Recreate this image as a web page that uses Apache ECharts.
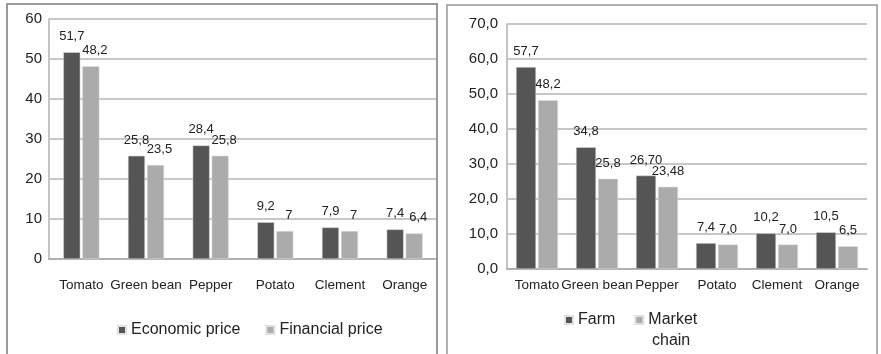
<!DOCTYPE html>
<html><head><meta charset="utf-8">
<script src="https://cdn.jsdelivr.net/npm/echarts@6/dist/echarts.min.js"></script>
<style>html,body{margin:0;padding:0;background:#fff}#c{width:881px;height:354px}</style>
</head><body><div id="c"></div>
<script>
const categories = ['Tomato', 'Green bean', 'Pepper', 'Potato', 'Clement', 'Orange'];
const economicPrice = [51.7, 25.8, 28.4, 9.2, 7.9, 7.4];
const financialPrice = [48.2, 23.5, 25.8, 7, 7, 6.4];
const economicLabels = ['51,7', '25,8', '28,4', '9,2', '7,9', '7,4'];
const financialLabels = ['48,2', '23,5', '25,8', '7', '7', '6,4'];
const farm = [57.7, 34.8, 26.70, 7.4, 10.2, 10.5];
const marketChain = [48.2, 25.8, 23.48, 7.0, 7.0, 6.5];
const farmLabels = ['57,7', '34,8', '26,70', '7,4', '10,2', '10,5'];
const marketLabels = ['48,2', '25,8', '23,48', '7,0', '7,0', '6,5'];
const leftTicks = { min: 0, max: 60, interval: 10 };
const rightTicks = { min: 0, max: 70, interval: 10 };

const DARK = '#555555', LIGHT = '#ababab', FONT = 'Liberation Sans, Arial, sans-serif';
const chart = echarts.init(document.getElementById('c'), null, { renderer: 'canvas' });
const lbl = (arr, off) => ({ show: true, position: 'top', distance: 9, fontSize: 13, color: '#222', fontFamily: FONT,
  offset: off || [0, 0], formatter: p => arr[p.dataIndex] });
chart.setOption({
  animation: false,
  textStyle: { fontFamily: FONT },
  graphic: [
    { type: 'rect', shape: { x: 7, y: 4, width: 430, height: 370 }, style: { fill: 'none', stroke: '#9a9a9a', lineWidth: 2 }, z: 100 },
    { type: 'rect', shape: { x: 447, y: 5, width: 430, height: 370 }, style: { fill: 'none', stroke: '#b0b0b0', lineWidth: 2 }, z: 100 },
    { type: 'text', x: 652, y: 333, style: { text: 'chain', fontSize: 16, fill: '#222', fontFamily: FONT }, z: 100 }
  ],
  grid: [
    { left: 49, top: 19, right: 444, bottom: 95 },
    { left: 507, top: 24, right: 14, bottom: 85 }
  ],
  xAxis: [
    { gridIndex: 0, type: 'category', data: categories, axisTick: { show: false },
      axisLine: { lineStyle: { color: '#b0b0b0', width: 2 } },
      axisLabel: { color: '#222', fontSize: 13.5, margin: 19, interval: 0, fontFamily: FONT } },
    { gridIndex: 1, type: 'category', data: categories, axisTick: { show: false },
      axisLine: { lineStyle: { color: '#b0b0b0', width: 2 } },
      axisLabel: { color: '#222', fontSize: 13.5, margin: 9, interval: 0, fontFamily: FONT } }
  ],
  yAxis: [
    { gridIndex: 0, type: 'value', min: leftTicks.min, max: leftTicks.max, interval: leftTicks.interval,
      axisLine: { show: true, lineStyle: { color: '#c4c4c4', width: 2 } }, axisTick: { show: false },
      splitLine: { lineStyle: { color: '#b4b4b4', width: 1.5 } },
      axisLabel: { color: '#222', fontSize: 15, margin: 7, fontFamily: FONT } },
    { gridIndex: 1, type: 'value', min: rightTicks.min, max: rightTicks.max, interval: rightTicks.interval,
      axisLine: { show: true, lineStyle: { color: '#c4c4c4', width: 2 } }, axisTick: { show: false },
      splitLine: { lineStyle: { color: '#b4b4b4', width: 1.5 } },
      axisLabel: { color: '#222', fontSize: 15, margin: 9, fontFamily: FONT, formatter: v => v.toFixed(1).replace('.', ',') } }
  ],
  legend: [
    { left: 117, top: 322, padding: 0, itemWidth: 8, itemHeight: 8, itemGap: 25, icon: 'rect',
      data: ['Economic price', 'Financial price'], textStyle: { fontSize: 16, color: '#222', fontFamily: FONT } },
    { left: 564, top: 312, padding: 0, itemWidth: 8, itemHeight: 8, itemGap: 19, icon: 'rect',
      data: ['Farm', 'Market chain'], formatter: n => n === 'Market chain' ? 'Market' : n,
      textStyle: { fontSize: 16, color: '#222', fontFamily: FONT } }
  ],
  series: [
    { name: 'Economic price', type: 'bar', xAxisIndex: 0, yAxisIndex: 0, data: economicPrice, barWidth: 17, barGap: '12%',
      itemStyle: { color: DARK, borderColor: '#e0e0e0', borderWidth: 0.5 }, label: lbl(economicLabels) },
    { name: 'Financial price', type: 'bar', xAxisIndex: 0, yAxisIndex: 0, data: financialPrice, barWidth: 17,
      itemStyle: { color: LIGHT, borderColor: '#e0e0e0', borderWidth: 0.5 }, label: lbl(financialLabels, [4, 0]) },
    { name: 'Farm', type: 'bar', xAxisIndex: 1, yAxisIndex: 1, data: farm, barWidth: 20, barGap: '10%',
      itemStyle: { color: DARK, borderColor: '#e0e0e0', borderWidth: 0.5 }, label: lbl(farmLabels) },
    { name: 'Market chain', type: 'bar', xAxisIndex: 1, yAxisIndex: 1, data: marketChain, barWidth: 20,
      itemStyle: { color: LIGHT, borderColor: '#e0e0e0', borderWidth: 0.5 }, label: lbl(marketLabels) }
  ]
});
</script></body></html>
